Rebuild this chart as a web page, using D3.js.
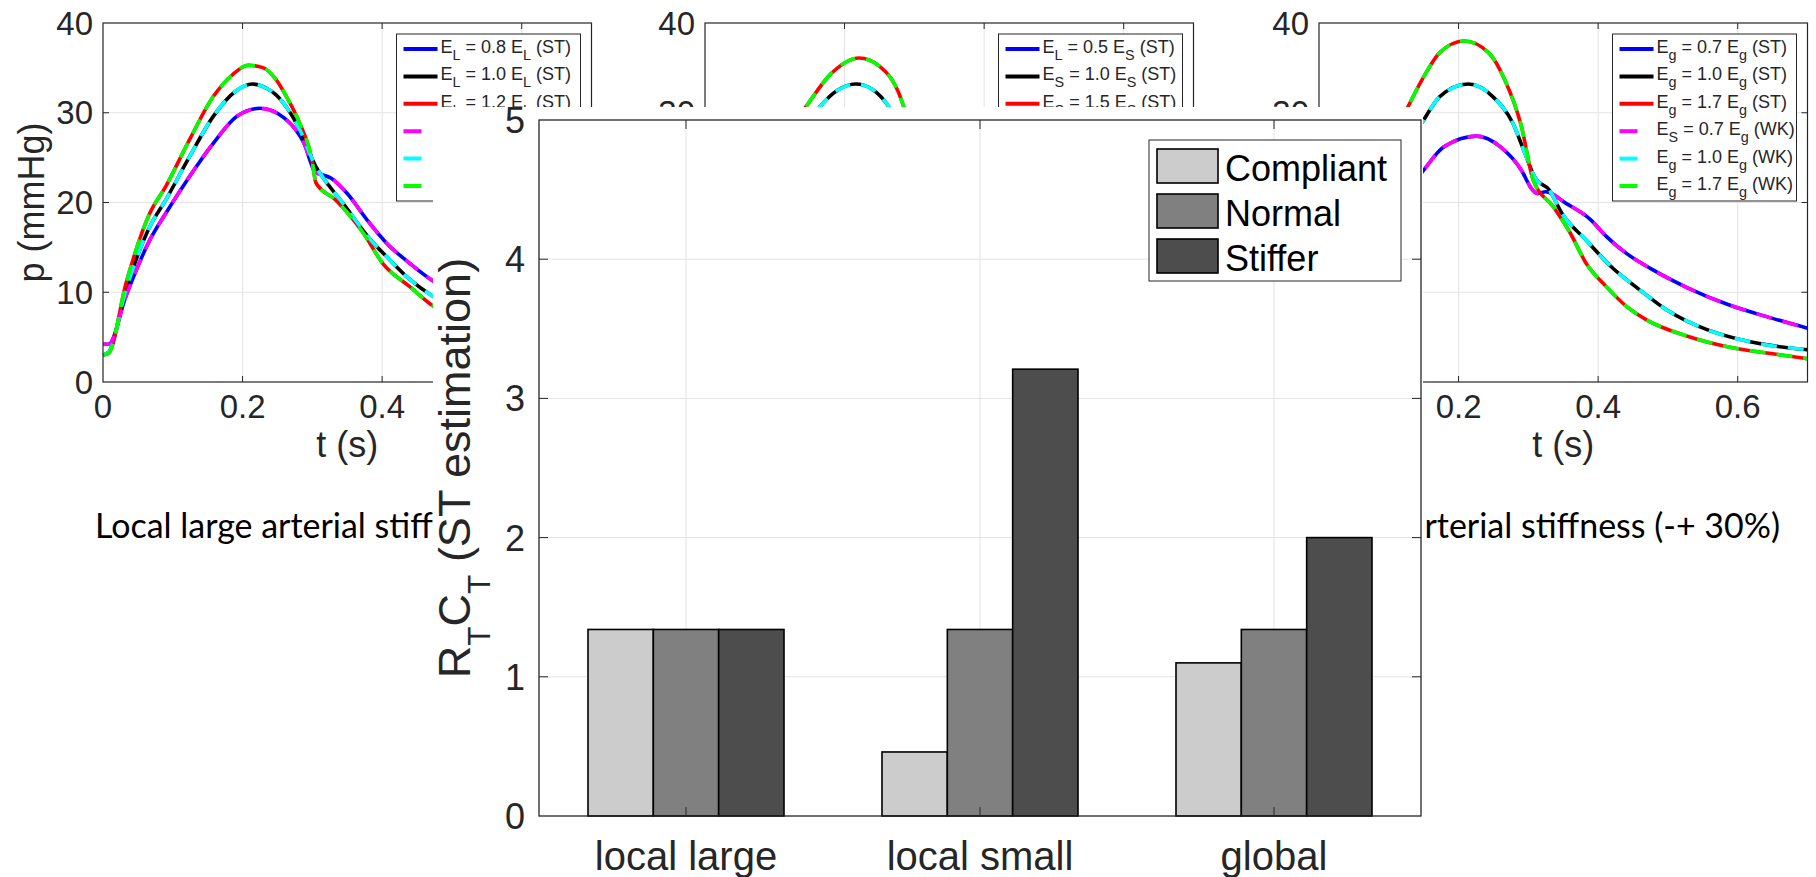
<!DOCTYPE html>
<html>
<head>
<meta charset="utf-8">
<script src="https://cdn.jsdelivr.net/npm/d3@7"></script>
<style>
  html, body { margin: 0; padding: 0; background: #fff; }
  svg { display: block; }
  text { white-space: pre; }
</style>
</head>
<body>
<div id="chart"></div>
<script>
const timeTicks = [0, 0.2, 0.4, 0.6];
const pressureTicks = [0, 10, 20, 30, 40];

// local large arterial stiffness: p (mmHg) over t (s)
const largeLow = [[0, 4.2], [0.008, 4.2], [0.033, 9.6], [0.067, 15.8], [0.09, 18.8], [0.124, 22.9], [0.158, 26.6], [0.192, 29.6], [0.225, 30.5], [0.26, 29.4], [0.288, 26.6], [0.305, 23.3], [0.31, 23.2], [0.327, 22.7], [0.35, 21], [0.378, 18.1], [0.406, 15.5], [0.44, 13.2], [0.474, 11.2], [0.52, 9.3], [0.58, 7.5], [0.64, 6.3], [0.7, 5.4]];
const largeMid = [[0, 3.0], [0.008, 3.3], [0.033, 10.3], [0.067, 17.3], [0.09, 20.3], [0.124, 25.1], [0.158, 29.6], [0.19, 32.4], [0.214, 33.2], [0.235, 32.7], [0.248, 32], [0.265, 30.4], [0.282, 28.1], [0.305, 24], [0.316, 22.7], [0.344, 19.9], [0.384, 15.8], [0.406, 14], [0.44, 11.4], [0.474, 9.5], [0.52, 7.8], [0.58, 6.2], [0.64, 5.1], [0.7, 4.3]];
const largeHigh = [[0, 3.0], [0.008, 3.2], [0.033, 11], [0.067, 18.8], [0.09, 21.8], [0.124, 27], [0.158, 31.8], [0.185, 34.2], [0.208, 35.3], [0.23, 35], [0.248, 33.7], [0.265, 31.5], [0.282, 28.8], [0.3, 24.5], [0.305, 22.2], [0.333, 20.3], [0.373, 16.6], [0.401, 13.2], [0.44, 10.6], [0.474, 8.4], [0.52, 6.6], [0.58, 5.0], [0.64, 4.0], [0.7, 3.4]];

// local small arterial stiffness
const smallLow = [[0, 3.5], [0.03, 9], [0.06, 15], [0.09, 19], [0.12, 23], [0.16, 27], [0.21, 29], [0.25, 28], [0.29, 24.5], [0.31, 22.5], [0.34, 20.5], [0.38, 17.5], [0.42, 14.8], [0.47, 12], [0.53, 9.5], [0.6, 7.6], [0.7, 6]];
const smallMid = [[0, 3], [0.03, 10], [0.06, 16.5], [0.09, 20.5], [0.12, 25], [0.164, 30.6], [0.19, 32.5], [0.216, 33.2], [0.24, 32.6], [0.264, 30.6], [0.29, 26.5], [0.31, 22.8], [0.34, 20], [0.38, 16.5], [0.42, 13.5], [0.47, 10.5], [0.53, 8], [0.6, 6.2], [0.7, 4.8]];
const smallHigh = [[0, 3], [0.03, 10.5], [0.06, 18], [0.09, 23], [0.12, 28], [0.144, 30.6], [0.18, 34.3], [0.221, 36.1], [0.25, 35.2], [0.285, 30.6], [0.3, 26], [0.31, 22.5], [0.34, 19.5], [0.38, 15.5], [0.42, 12], [0.47, 9], [0.53, 6.8], [0.6, 5.2], [0.7, 4]];

// global arterial stiffness
const globalLow = [[0, 3], [0.03, 8.5], [0.06, 13], [0.09, 17], [0.12, 20.5], [0.15, 23.6], [0.179, 26.2], [0.226, 27.4], [0.26, 26.2], [0.29, 23.6], [0.305, 21.5], [0.313, 21.0], [0.325, 21.2], [0.354, 19.9], [0.389, 18.1], [0.412, 16.2], [0.441, 14.3], [0.476, 12.6], [0.528, 10.5], [0.587, 8.6], [0.645, 7.2], [0.7, 6.0]];
const globalMid = [[0, 3], [0.03, 10], [0.06, 16.5], [0.09, 21], [0.12, 25.5], [0.15, 29.2], [0.173, 31.8], [0.214, 33.2], [0.249, 31.8], [0.278, 28.8], [0.295, 25.5], [0.31, 22.7], [0.33, 21.4], [0.348, 18.8], [0.383, 15.8], [0.418, 12.9], [0.459, 10.3], [0.499, 8.0], [0.557, 5.8], [0.616, 4.5], [0.7, 3.6]];
const globalHigh = [[0, 3], [0.03, 11], [0.06, 19], [0.09, 25], [0.12, 29.5], [0.15, 34], [0.173, 36.7], [0.208, 38], [0.243, 36.7], [0.266, 33.7], [0.29, 28.5], [0.307, 22.5], [0.336, 19.5], [0.36, 16.6], [0.383, 13.2], [0.412, 10.6], [0.441, 8.4], [0.47, 6.9], [0.528, 5.1], [0.587, 3.9], [0.645, 3.2], [0.7, 2.6]];

const largeLabels = ['E_L = 0.8 E_L (ST)', 'E_L = 1.0 E_L (ST)', 'E_L = 1.2 E_L (ST)', 'E_L = 0.8 E_L (WK)', 'E_L = 1.0 E_L (WK)', 'E_L = 1.2 E_L (WK)'];
const smallLabels = ['E_L = 0.5 E_S (ST)', 'E_S = 1.0 E_S (ST)', 'E_S = 1.5 E_S (ST)', 'E_S = 0.5 E_S (WK)', 'E_S = 1.0 E_S (WK)', 'E_S = 1.5 E_S (WK)'];
const globalLabels = ['E_g = 0.7 E_g (ST)', 'E_g = 1.0 E_g (ST)', 'E_g = 1.7 E_g (ST)', 'E_S = 0.7 E_g (WK)', 'E_g = 1.0 E_g (WK)', 'E_g = 1.7 E_g (WK)'];

const panelTitles = ['Local large arterial stiffness (-+ 30%)', 'Local small arterial stiffness (-+ 30%)', 'Global arterial stiffness (-+ 30%)'];

// bar chart
const categories = ['local large', 'local small', 'global'];
const groups = ['Compliant', 'Normal', 'Stiffer'];
const compliant = [1.34, 0.46, 1.10];
const normal = [1.34, 1.34, 1.34];
const stiffer = [1.34, 3.21, 2.00];
const barTicks = [0, 1, 2, 3, 4, 5];

const stColors = ['#0000ff', '#000000', '#ff0000'];
const wkColors = ['#ff00ff', '#00ffff', '#00ff00'];
const barColors = ['#cccccc', '#808080', '#4d4d4d'];

const AXIS = '#262626';
const GRID = '#e3e3e3';
const HELV = '"Liberation Sans", Arial, Helvetica, sans-serif';
const CAPTION_FONT = 'Lato, "Open Sans", sans-serif';

// area taken by the bar chart figure pasted over the slide
const cover = { x0: 433, y0: 107, x1: 1423, y1: 877 };

const svg = d3.select('#chart').append('svg')
    .attr('width', 1816)
    .attr('height', 877);

svg.append('defs').append('clipPath')
    .attr('id', 'uncovered')
  .append('path')
    .attr('clip-rule', 'evenodd')
    .attr('d', `M0,0H1816V877H0Z M${cover.x0},${cover.y0}H${cover.x1}V${cover.y1}H${cover.x0}Z`);

const slide = svg.append('g')
    .attr('class', 'slide')
    .attr('clip-path', 'url(#uncovered)');

// tex-like text with single-letter subscripts (E_L, R_T ...)
function tex(text, str, size, subScale, subDrop) {
  const parts = str.split(/_(\w)/);
  let down = false;
  parts.forEach((s, i) => {
    if (!s) return;
    const ts = text.append('tspan').text(s);
    if (i % 2 === 1) {
      ts.attr('font-size', size * subScale).attr('dy', subDrop);
      down = true;
    } else if (down) {
      ts.attr('dy', -subDrop);
      down = false;
    }
  });
}

function linePanel(left, curves, labels) {
  const width = 488.5;
  const top = 23;
  const bottom = 382;
  const x = d3.scaleLinear().domain([0, 0.7]).range([left, left + width]);
  const y = d3.scaleLinear().domain([0, 40]).range([bottom, top]);
  const g = slide.append('g');

  // grid
  g.selectAll('.vgrid').data(timeTicks.slice(1)).enter().append('line')
      .attr('x1', d => x(d)).attr('x2', d => x(d))
      .attr('y1', top).attr('y2', bottom)
      .attr('stroke', GRID).attr('stroke-width', 1);
  g.selectAll('.hgrid').data(pressureTicks.slice(1, -1)).enter().append('line')
      .attr('x1', left).attr('x2', left + width)
      .attr('y1', d => y(d)).attr('y2', d => y(d))
      .attr('stroke', GRID).attr('stroke-width', 1);

  const line = d3.line()
      .curve(d3.curveMonotoneX)
      .x(d => x(d[0]))
      .y(d => y(d[1]));

  curves.forEach((c, i) => {
    g.append('path').datum(c)
        .attr('d', line).attr('fill', 'none')
        .attr('stroke', stColors[i]).attr('stroke-width', 3.6);
  });
  curves.forEach((c, i) => {
    g.append('path').datum(c)
        .attr('d', line).attr('fill', 'none')
        .attr('stroke', wkColors[i]).attr('stroke-width', 3.6)
        .attr('stroke-dasharray', '16,11');
  });

  // box and inward ticks
  g.append('rect')
      .attr('x', left).attr('y', top)
      .attr('width', width).attr('height', bottom - top)
      .attr('fill', 'none').attr('stroke', AXIS).attr('stroke-width', 1.2);
  timeTicks.slice(1).forEach(t => {
    g.append('line').attr('x1', x(t)).attr('x2', x(t)).attr('y1', bottom).attr('y2', bottom - 6).attr('stroke', AXIS);
    g.append('line').attr('x1', x(t)).attr('x2', x(t)).attr('y1', top).attr('y2', top + 6).attr('stroke', AXIS);
  });
  pressureTicks.slice(1, -1).forEach(p => {
    g.append('line').attr('x1', left).attr('x2', left + 6).attr('y1', y(p)).attr('y2', y(p)).attr('stroke', AXIS);
    g.append('line').attr('x1', left + width).attr('x2', left + width - 6).attr('y1', y(p)).attr('y2', y(p)).attr('stroke', AXIS);
  });

  // tick labels
  g.selectAll('.xl').data(timeTicks).enter().append('text')
      .attr('x', d => x(d)).attr('y', 418)
      .attr('text-anchor', 'middle')
      .attr('font-family', HELV).attr('font-size', 33).attr('fill', AXIS)
      .text(d => d3.format('')(d));
  g.selectAll('.yl').data(pressureTicks).enter().append('text')
      .attr('x', left - 10).attr('y', d => y(d)).attr('dy', '0.35em')
      .attr('text-anchor', 'end')
      .attr('font-family', HELV).attr('font-size', 33).attr('fill', AXIS)
      .text(d => d);

  // axis labels
  g.append('text')
      .attr('x', left + width / 2).attr('y', 457)
      .attr('text-anchor', 'middle')
      .attr('font-family', HELV).attr('font-size', 36).attr('fill', AXIS)
      .text('t (s)');
  g.append('text')
      .attr('transform', `translate(${left - 59}, ${(top + bottom) / 2}) rotate(-90)`)
      .attr('text-anchor', 'middle')
      .attr('font-family', HELV).attr('font-size', 36).attr('fill', AXIS)
      .text('p (mmHg)');

  // legend
  const lx = left + width - 195;
  const leg = g.append('g');
  leg.append('rect')
      .attr('x', lx).attr('y', 34)
      .attr('width', 184).attr('height', 167)
      .attr('fill', '#fff').attr('stroke', AXIS).attr('stroke-width', 1);
  labels.forEach((lab, i) => {
    const ry = 49 + i * 27.4;
    const wk = i >= 3;
    leg.append('line')
        .attr('x1', lx + 7).attr('x2', wk ? lx + 25 : lx + 41)
        .attr('y1', ry).attr('y2', ry)
        .attr('stroke', wk ? wkColors[i - 3] : stColors[i]).attr('stroke-width', 4);
    const t = leg.append('text')
        .attr('x', lx + 44).attr('y', ry + 4)
        .attr('font-family', HELV).attr('font-size', 18).attr('fill', AXIS);
    tex(t, lab, 18, 0.8, 7);
  });
}

const panelCurves = [
  [largeLow, largeMid, largeHigh],
  [smallLow, smallMid, smallHigh],
  [globalLow, globalMid, globalHigh]
];
const panelLabels = [largeLabels, smallLabels, globalLabels];
const panelLefts = [103, 705, 1319];

panelLefts.forEach((left, i) => linePanel(left, panelCurves[i], panelLabels[i]));

// slide captions under the panels
const probe = svg.append('text')
    .attr('font-family', CAPTION_FONT).attr('font-size', 36)
    .text('Local large arterial stiff');
const capSize = 36 * 338 / probe.node().getComputedTextLength();
probe.remove();

const captionX = [95, 949, 1780];
const captionAnchor = ['start', 'middle', 'end'];
panelTitles.forEach((title, i) => {
  slide.append('text')
      .attr('x', captionX[i]).attr('y', 538)
      .attr('text-anchor', captionAnchor[i])
      .attr('font-family', CAPTION_FONT).attr('font-size', capSize).attr('fill', '#000')
      .text(title);
});

// texts lying wholly under the pasted bar chart are not seen at all
slide.selectAll('text').each(function hide() {
  const r = this.getBoundingClientRect();
  if (r.left >= cover.x0 && r.right <= cover.x1 && r.top >= cover.y0) d3.select(this).remove();
});

// bar chart figure pasted on top
function barChart() {
  const left = 539;
  const right = 1421;
  const g = svg.append('g');

  g.append('rect')
      .attr('x', cover.x0).attr('y', cover.y0)
      .attr('width', cover.x1 - cover.x0).attr('height', cover.y1 - cover.y0)
      .attr('fill', '#fff');

  const x0 = d3.scaleBand().domain(categories).range([left, right]);
  const x1 = d3.scaleBand().domain(groups).range([0, x0.bandwidth()]).paddingOuter(0.75);
  const y = d3.scaleLinear().domain([0, 5]).range([816, 120]);
  const top = y(5);
  const bottom = y(0);
  const series = [compliant, normal, stiffer];

  g.selectAll('.hgrid').data(barTicks.slice(1, -1)).enter().append('line')
      .attr('x1', left).attr('x2', right)
      .attr('y1', d => y(d)).attr('y2', d => y(d))
      .attr('stroke', GRID).attr('stroke-width', 1);
  g.selectAll('.vgrid').data(categories).enter().append('line')
      .attr('x1', d => x0(d) + x0.bandwidth() / 2).attr('x2', d => x0(d) + x0.bandwidth() / 2)
      .attr('y1', top).attr('y2', bottom)
      .attr('stroke', GRID).attr('stroke-width', 1);

  categories.forEach((c, ci) => {
    groups.forEach((s, si) => {
      const v = series[si][ci];
      g.append('rect')
          .attr('x', x0(c) + x1(s)).attr('y', y(v))
          .attr('width', x1.bandwidth()).attr('height', bottom - y(v))
          .attr('fill', barColors[si])
          .attr('stroke', '#000').attr('stroke-width', 1.6);
    });
  });

  g.append('rect')
      .attr('x', left).attr('y', top)
      .attr('width', right - left).attr('height', bottom - top)
      .attr('fill', 'none').attr('stroke', AXIS).attr('stroke-width', 1.3);

  barTicks.slice(1, -1).forEach(v => {
    g.append('line').attr('x1', left).attr('x2', left + 9).attr('y1', y(v)).attr('y2', y(v)).attr('stroke', AXIS);
    g.append('line').attr('x1', right).attr('x2', right - 9).attr('y1', y(v)).attr('y2', y(v)).attr('stroke', AXIS);
  });
  categories.forEach(c => {
    const cx = x0(c) + x0.bandwidth() / 2;
    g.append('line').attr('x1', cx).attr('x2', cx).attr('y1', top).attr('y2', top + 9).attr('stroke', AXIS);
    g.append('line').attr('x1', cx).attr('x2', cx).attr('y1', bottom).attr('y2', bottom - 9).attr('stroke', AXIS);
  });

  g.selectAll('.yl').data(barTicks).enter().append('text')
      .attr('x', 525).attr('y', d => y(d)).attr('dy', '0.36em')
      .attr('text-anchor', 'end')
      .attr('font-family', HELV).attr('font-size', 36).attr('fill', AXIS)
      .text(d => d);
  g.selectAll('.xl').data(categories).enter().append('text')
      .attr('x', d => x0(d) + x0.bandwidth() / 2).attr('y', 870)
      .attr('text-anchor', 'middle')
      .attr('font-family', HELV).attr('font-size', 40).attr('fill', AXIS)
      .text(d => d);

  const yl = g.append('text')
      .attr('transform', `translate(470, ${(top + bottom) / 2}) rotate(-90)`)
      .attr('text-anchor', 'middle')
      .attr('font-family', HELV).attr('font-size', 45).attr('fill', AXIS);
  tex(yl, 'R_TC_T (ST estimation)', 45, 0.7, 20);

  // legend
  const leg = g.append('g');
  leg.append('rect')
      .attr('x', 1149).attr('y', 140)
      .attr('width', 252).attr('height', 141)
      .attr('fill', '#fff').attr('stroke', AXIS).attr('stroke-width', 1);
  groups.forEach((s, i) => {
    const sy = 149 + i * 45;
    leg.append('rect')
        .attr('x', 1157).attr('y', sy)
        .attr('width', 61).attr('height', 34)
        .attr('fill', barColors[i]).attr('stroke', '#000').attr('stroke-width', 1.6);
    leg.append('text')
        .attr('x', 1225).attr('y', sy + 17 + 14.5)
        .attr('font-family', HELV).attr('font-size', 36).attr('fill', '#000')
        .text(s);
  });
}

barChart();
</script>
</body>
</html>
